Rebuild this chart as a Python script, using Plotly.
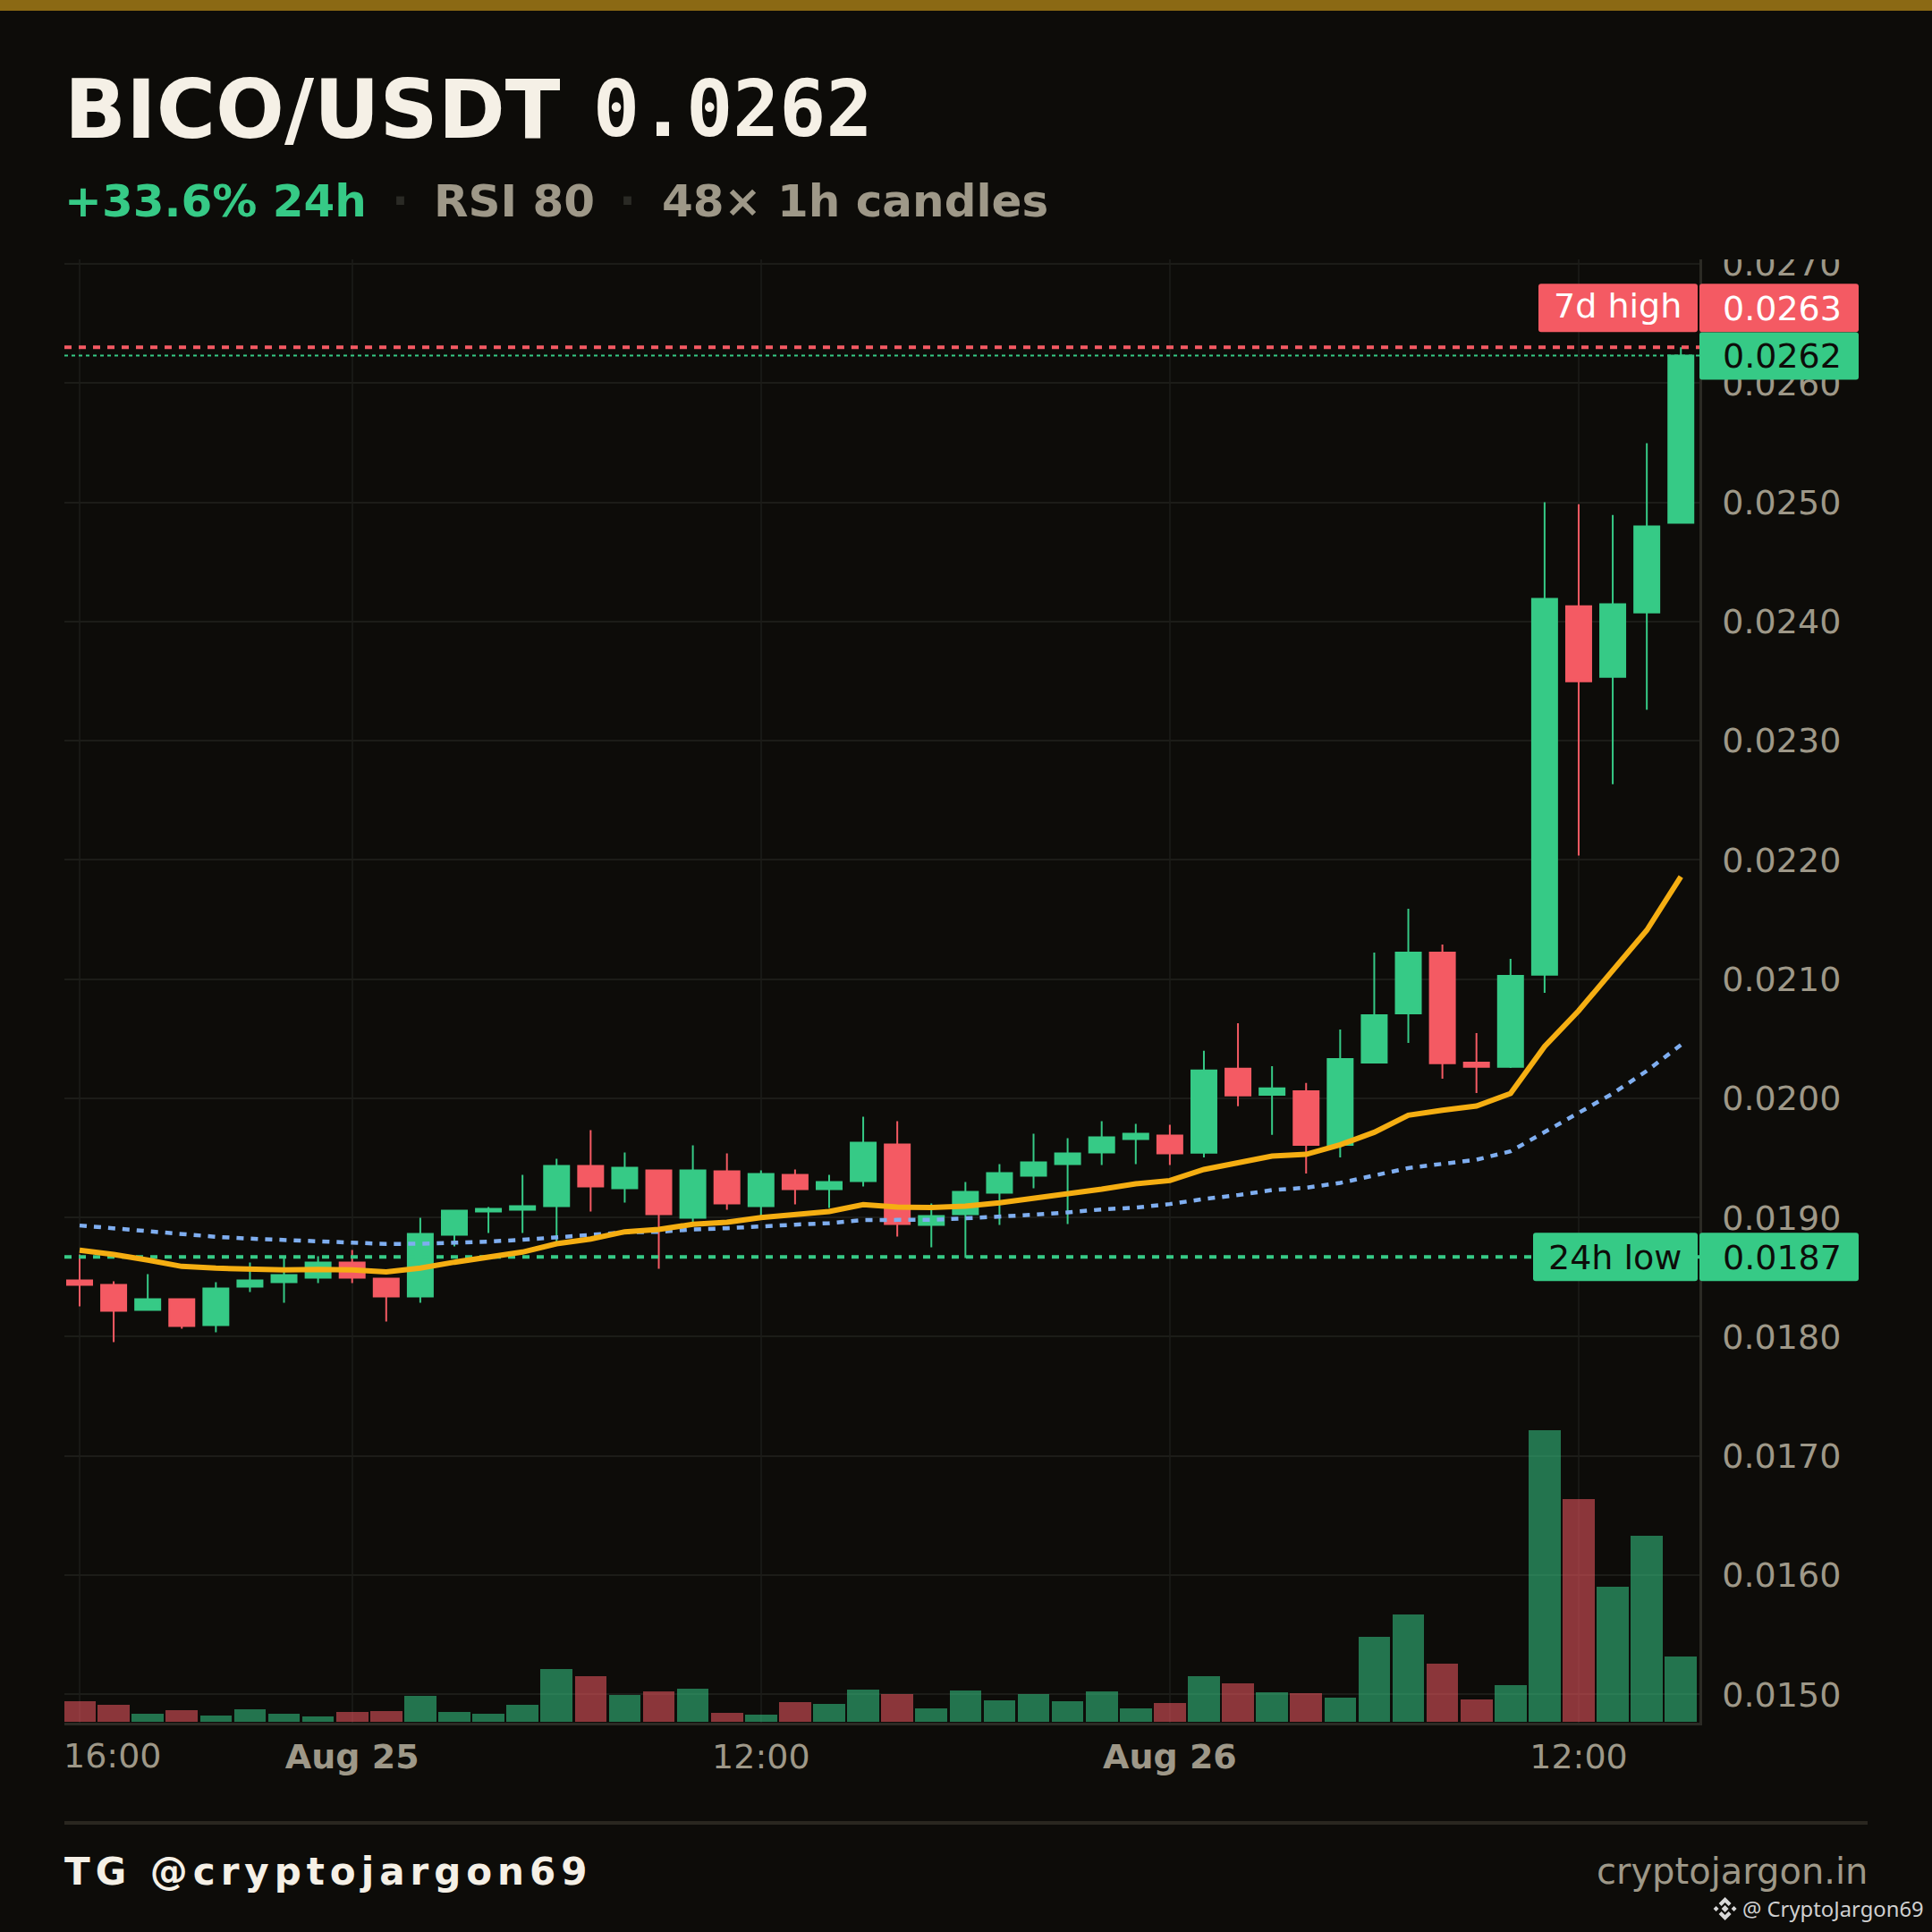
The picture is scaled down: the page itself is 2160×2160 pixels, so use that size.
"""BICO/USDT hourly candles with moving averages, volume and price tags."""

import pandas as pd
import plotly.graph_objects as go

# hourly candles, Aug 24 16:00 to Aug 26 15:00
opens = [0.018473, 0.018435, 0.018225, 0.018315, 0.018098, 0.018420, 0.018458, 0.018495,
         0.018623, 0.018488, 0.018338, 0.018855, 0.019050, 0.019065, 0.019095, 0.019433,
         0.019245, 0.019395, 0.018998, 0.019388, 0.019095, 0.019358, 0.019238, 0.019305,
         0.019613, 0.018938, 0.019028, 0.019208, 0.019350, 0.019448, 0.019545, 0.019658,
         0.019688, 0.019543, 0.020248, 0.020030, 0.020060, 0.019610, 0.020300, 0.020713,
         0.021223, 0.020300, 0.020263, 0.021036, 0.024128, 0.023535, 0.024076, 0.024828]
highs = [0.018690, 0.018465, 0.018525, 0.018323, 0.018458, 0.018623, 0.018668, 0.018675,
         0.018728, 0.018495, 0.018998, 0.019058, 0.019088, 0.019358, 0.019493, 0.019733,
         0.019545, 0.019395, 0.019605, 0.019538, 0.019395, 0.019403, 0.019358, 0.019845,
         0.019808, 0.019118, 0.019298, 0.019448, 0.019703, 0.019665, 0.019808, 0.019785,
         0.019778, 0.020398, 0.020630, 0.020270, 0.020128, 0.020578, 0.021223, 0.021590,
         0.021290, 0.020548, 0.021170, 0.025000, 0.024983, 0.024893, 0.025496, 0.026300]
lows = [0.018255, 0.017955, 0.018225, 0.018068, 0.018038, 0.018375, 0.018285, 0.018450,
        0.018450, 0.018128, 0.018285, 0.018758, 0.018870, 0.018870, 0.018795, 0.019050,
        0.019125, 0.018570, 0.018955, 0.019065, 0.019005, 0.019110, 0.019080, 0.019260,
        0.018840, 0.018750, 0.018660, 0.018938, 0.019245, 0.018945, 0.019440, 0.019448,
        0.019440, 0.019505, 0.019933, 0.019693, 0.019370, 0.019505, 0.020300, 0.020465,
        0.020165, 0.020045, 0.020255, 0.020885, 0.022036, 0.022635, 0.023259, 0.024828]
closes = [0.018435, 0.018218, 0.018315, 0.018090, 0.018405, 0.018473, 0.018518, 0.018623,
          0.018495, 0.018338, 0.018863, 0.019058, 0.019073, 0.019095, 0.019433, 0.019260,
          0.019418, 0.019028, 0.019395, 0.019118, 0.019365, 0.019238, 0.019298, 0.019628,
          0.018945, 0.019013, 0.019215, 0.019373, 0.019463, 0.019538, 0.019673, 0.019703,
          0.019538, 0.020233, 0.020023, 0.020083, 0.019610, 0.020330, 0.020698, 0.021223,
          0.020293, 0.020263, 0.021028, 0.024190, 0.023497, 0.024145, 0.024797, 0.026231]
ma_fast = [0.018725, 0.018690, 0.018643, 0.018590, 0.018575, 0.018568, 0.018560, 0.018565,
           0.018560, 0.018543, 0.018575, 0.018625, 0.018668, 0.018710, 0.018780, 0.018820,
           0.018880, 0.018900, 0.018943, 0.018960, 0.019000, 0.019025, 0.019050, 0.019108,
           0.019088, 0.019083, 0.019095, 0.019123, 0.019158, 0.019193, 0.019238, 0.019283,
           0.019310, 0.019403, 0.019460, 0.019515, 0.019530, 0.019610, 0.019715, 0.019858,
           0.019900, 0.019935, 0.020040, 0.020435, 0.020735, 0.021065, 0.021410, 0.021860]
ma_slow = [0.018933, 0.018908, 0.018880, 0.018855, 0.018838, 0.018823, 0.018810, 0.018803,
           0.018790, 0.018778, 0.018780, 0.018788, 0.018798, 0.018813, 0.018835, 0.018853,
           0.018875, 0.018880, 0.018900, 0.018910, 0.018928, 0.018940, 0.018953, 0.018978,
           0.018980, 0.018980, 0.018993, 0.019005, 0.019023, 0.019043, 0.019068, 0.019083,
           0.019113, 0.019155, 0.019188, 0.019230, 0.019250, 0.019290, 0.019355, 0.019415,
           0.019450, 0.019485, 0.019555, 0.019718, 0.019878, 0.020040, 0.020230, 0.020448]
volumes = [69, 57, 27, 39, 21, 42, 27, 18, 33, 36, 87, 33, 27, 57, 177, 153,
           90, 102, 111, 30, 24, 66, 60, 108, 93, 45, 105, 72, 93, 69, 102, 45,
           63, 153, 129, 99, 96, 81, 285, 360, 195, 75, 123, 978, 747, 453, 624, 219]

tick_hours = [8, 20, 32, 44]
tick_labels = ["<b>Aug 25</b>", "12:00", "<b>Aug 26</b>", "12:00"]
high_7d = 0.0263
low_24h = 0.01867
last_price = 0.026231

BG = "#0D0C09"
GREEN = "#36CA86"
RED = "#F45A63"
GREEN_DIM = "rgba(54,202,134,0.55)"
RED_DIM = "rgba(244,90,99,0.55)"
MUTED = "#9E9888"
CREAM = "#F5F0E6"
SANS = "DejaVu Sans"

# plot area in page pixels
LEFT, RIGHT, TOP, BOTTOM = 72, 1900, 290, 1926


def px(x):
    return (x - LEFT) / (RIGHT - LEFT)


def py(y):
    return (BOTTOM - y) / (BOTTOM - TOP)


start = pd.Timestamp("2025-08-24 16:00")
times = pd.date_range(start, periods=len(closes), freq="h")
x_start = start - pd.Timedelta(hours=0.446)
x_end = start + pd.Timedelta(hours=47.545)

fig = go.Figure()

fig.add_trace(go.Bar(
    x=times,
    y=volumes,
    width=3600000 * 0.935,
    marker=dict(color=[GREEN_DIM if c >= o else RED_DIM for o, c in zip(opens, closes)], line_width=0),
    yaxis="y",
    showlegend=False,
))
fig.add_trace(go.Scatter(
    x=[x_start, x_end], y=[low_24h, low_24h], mode="lines", yaxis="y2", showlegend=False,
    line=dict(color=GREEN, width=4, dash="8px,8px"),
))
fig.add_trace(go.Candlestick(
    x=times,
    open=opens,
    high=highs,
    low=lows,
    close=closes,
    yaxis="y2",
    whiskerwidth=0,
    increasing=dict(line=dict(color=GREEN, width=2), fillcolor=GREEN),
    decreasing=dict(line=dict(color=RED, width=2), fillcolor=RED),
    showlegend=False,
))
fig.add_trace(go.Scatter(
    x=times, y=ma_slow, mode="lines", yaxis="y2", showlegend=False,
    line=dict(color="#7FAEF0", width=4.5, dash="8px,8px"),
))
fig.add_trace(go.Scatter(
    x=times, y=ma_fast, mode="lines", yaxis="y2", showlegend=False,
    line=dict(color="#F5AE12", width=6),
))
fig.add_trace(go.Scatter(
    x=[x_start, x_end], y=[last_price, last_price], mode="lines", yaxis="y2", showlegend=False,
    line=dict(color=GREEN, width=2, dash="4px,4px"),
))
fig.add_trace(go.Scatter(
    x=[x_start, x_end], y=[high_7d, high_7d], mode="lines", yaxis="y2", showlegend=False,
    line=dict(color=RED, width=4, dash="8px,8px"),
))

shapes = [
    dict(type="rect", xref="paper", yref="paper", x0=px(0), x1=px(2160), y0=py(0), y1=py(12),
         fillcolor="#8B6914", line_width=0),
    dict(type="rect", xref="paper", yref="paper", x0=px(72), x1=px(2088), y0=py(2036), y1=py(2040),
         fillcolor="#2A2720", line_width=0),
    # the top tick label is cut by the edge of the pane
    dict(type="rect", xref="paper", yref="paper", x0=px(1903), x1=px(2160), y0=py(260), y1=py(290),
         fillcolor=BG, line_width=0),
]


def tag(x0, x1, level, dy0, dy1, color, r=3):
    w = x1 - x0
    path = (f"M {r} {dy0} L {w - r} {dy0} Q {w} {dy0} {w} {dy0 + r} L {w} {dy1 - r} Q {w} {dy1} {w - r} {dy1} "
            f"L {r} {dy1} Q 0 {dy1} 0 {dy1 - r} L 0 {dy0 + r} Q 0 {dy0} {r} {dy0} Z")
    return dict(type="path", path=path, xref="paper", yref="y2", xsizemode="pixel", ysizemode="pixel",
                xanchor=px(x0), yanchor=level, fillcolor=color, line_width=0)


shapes += [
    tag(1720, 1898, high_7d, 17, 71, RED),
    tag(1900, 2078, high_7d, 17, 71, RED),
    tag(1900, 2078, last_price, -27, 26, GREEN),
    tag(1714, 1898, low_24h, -27, 27, GREEN),
    tag(1900, 2078, low_24h, -27, 27, GREEN),
]

logo = ("M 0 4 L 4 0 L 0 -4 L -4 0 Z M -10 3 L -7 0 L -10 -3 L -13 0 Z M 10 3 L 13 0 L 10 -3 L 7 0 Z "
        "M 0 13 L 7 6 L 4 3 L 0 7 L -4 3 L -7 6 Z M 0 -13 L 7 -6 L 4 -3 L 0 -7 L -4 -3 L -7 -6 Z")
shapes.append(dict(type="path", path=logo, xref="paper", yref="paper", xsizemode="pixel", ysizemode="pixel",
                   xanchor=px(1928.6), yanchor=py(2134), fillcolor="#D8D8D8", line_width=0))


def text(x, y, s, size, color, anchor="left", family=SANS, weight=400):
    return dict(xref="paper", yref="paper", x=px(x), y=py(y), text=s, showarrow=False, xanchor=anchor,
                yanchor="middle", font=dict(family=family, size=size, color=color, weight=weight))


annotations = [
    text(70, 122, "BICO/USDT", 90.5, CREAM, weight=700),
    text(661, 122, "0.0262", 86.5, CREAM, family="DejaVu Sans Mono", weight=700),
    text(69.5, 225, "+33.6% 24h", 50, GREEN, weight=700),
    text(447.5, 225, "·", 50, "#2A2A25", anchor="center", weight=700),
    text(482.5, 225, "RSI 80", 50, MUTED, weight=700),
    text(701.5, 225, "·", 50, "#2A2A25", anchor="center", weight=700),
    text(737.5, 225, "48× 1h candles", 50, MUTED, weight=700),
    text(69, 1963, "16:00", 38, MUTED),
    text(1808, 342, "7d high", 38, "#FFFFFF", anchor="center"),
    text(1924, 345, "0.0263", 38, "#FFFFFF"),
    text(1924, 398, "0.0262", 38, BG),
    text(1805, 1406, "24h low", 38, BG, anchor="center"),
    text(1924, 1406, "0.0187", 38, BG),
    text(124, 2092, "TG @cryptojargon69", 42, CREAM, weight=700),
    text(2090, 2092, "cryptojargon.in", 40, MUTED, anchor="right"),
    text(1946, 2134, "@ CryptoJargon69", 23.8, "#D0D0D0", family="Noto Sans"),
]

fig.update_layout(
    width=2160,
    height=2160,
    autosize=False,
    margin=dict(l=LEFT, r=2160 - RIGHT, t=TOP, b=2160 - BOTTOM, pad=0),
    paper_bgcolor=BG,
    plot_bgcolor=BG,
    font=dict(family=SANS, size=38, color=MUTED),
    boxgap=0.265,
    boxgroupgap=0,
    bargap=0,
    shapes=shapes,
    annotations=annotations,
    xaxis=dict(
        range=[x_start, x_end],
        rangeslider=dict(visible=False),
        tickmode="array",
        tickvals=[start] + [start + pd.Timedelta(hours=h) for h in tick_hours],
        ticktext=[""] + tick_labels,
        ticks="",
        showgrid=True,
        gridcolor="#181815",
        gridwidth=1.5,
        showline=True,
        linecolor="#2B2A24",
        linewidth=2.5,
        tickfont=dict(size=38, color=MUTED),
        ticklabelstandoff=3,
    ),
    yaxis=dict(range=[-3, 4905], visible=False, showgrid=False, fixedrange=True),
    yaxis2=dict(
        range=[0.014762, 0.0270375],
        overlaying="y",
        side="right",
        tick0=0.015,
        dtick=0.001,
        tickformat=".4f",
        ticks="",
        showgrid=True,
        gridcolor="#1C1C18",
        gridwidth=2,
        zeroline=False,
        showline=True,
        linecolor="#2B2A24",
        linewidth=2.5,
        tickfont=dict(size=38, color=MUTED),
        ticklabelstandoff=15,
    ),
)

# footer handle is letter-spaced; page margin removed so pixels line up
post = """
document.body.style.margin = '0';
document.body.style.background = '#0D0C09';
document.querySelectorAll('.annotation-text').forEach(function (t) {
  if (t.textContent.indexOf('TG @') === 0) { t.style.letterSpacing = '6px'; }
});
"""
fig.write_html("out.html", post_script=post, config=dict(displayModeBar=False))
